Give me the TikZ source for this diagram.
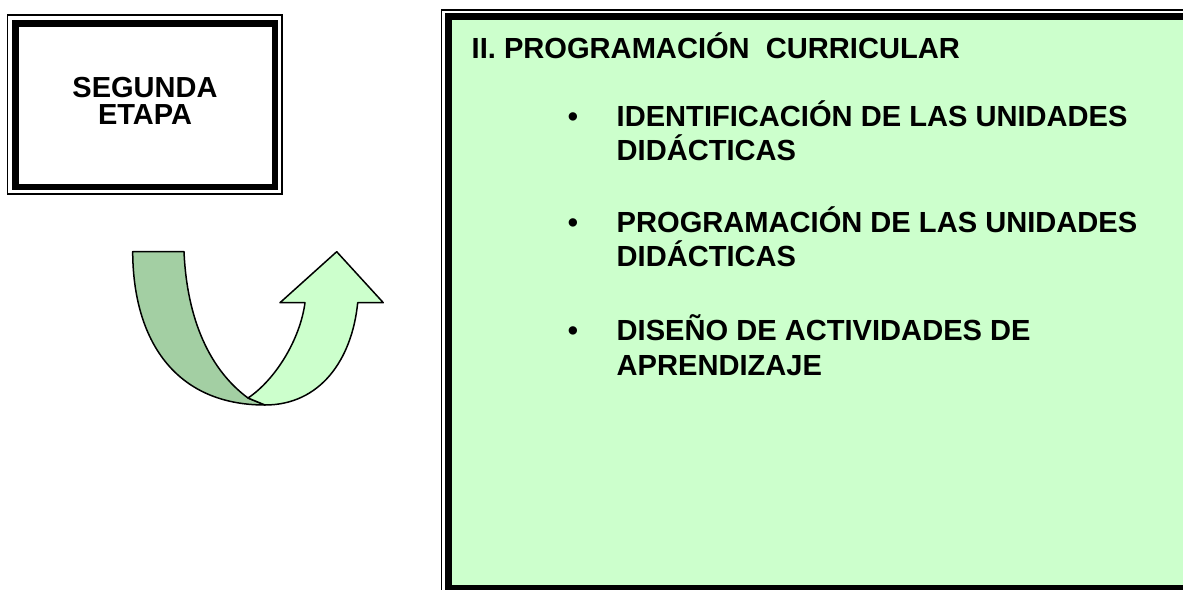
\documentclass[tikz,border=0pt]{standalone}
\usepackage{fontspec}
\setmainfont{Liberation Sans}
\definecolor{lightg}{HTML}{CCFFCC}
\definecolor{darkg}{HTML}{A3CFA3}
\begin{document}
\begin{tikzpicture}[x=1pt,y=-1pt,
  thinframe/.style={draw=black,line width=1.4pt},
  thickframe/.style={draw=black,line width=6.8pt},
  arrowpart/.style={draw=black,line width=1.5pt,line join=round},
  lefttxt/.style={anchor=base,inner sep=0pt,font=\bfseries\fontsize{29}{29}\selectfont},
  righttxt/.style={anchor=base west,inner sep=0pt,font=\bfseries\fontsize{29.1}{34}\selectfont},
  bullettxt/.style={anchor=base,inner sep=0pt,font=\bfseries\fontsize{29.1}{34}\selectfont}]
\useasboundingbox (0,0) rectangle (1183,589);
\begin{scope}
\clip (0,0) rectangle (1183,589);
% left box
\draw[thinframe] (7.3,15) rectangle (282,194);
\draw[thickframe,fill=white] (15.7,23.3) rectangle (275,187);
% right box
\draw[thinframe] (441.7,10) rectangle (1215,605);
\draw[thickframe,fill=lightg] (448.2,16.8) rectangle (1205,588);
\end{scope}
% texts left
\node[lefttxt] (seg) at (145,97.3) {SEGUNDA};
\node[lefttxt] (eta) at (145,124.3) {ETAPA};
% heading
\node[righttxt] (head) at (471.5,58.3) {II. PROGRAMACIÓN\ \ CURRICULAR};
% bullets
\node[bullettxt] (b1) at (573,126.7) {•};
\node[righttxt] (t1a) at (616.5,126.7) {IDENTIFICACIÓN DE LAS UNIDADES};
\node[righttxt] (t1b) at (616.5,160.7) {DIDÁCTICAS};
\node[bullettxt] (b2) at (573,232.7) {•};
\node[righttxt] (t2a) at (616.5,232.7) {PROGRAMACIÓN DE LAS UNIDADES};
\node[righttxt] (t2b) at (616.5,266.7) {DIDÁCTICAS};
\node[bullettxt] (b3) at (573,340.7) {•};
\node[righttxt] (t3a) at (616.5,340.7) {DISEÑO DE ACTIVIDADES DE};
\node[righttxt] (t3b) at (616.5,375.5) {APRENDIZAJE};
% U-turn arrow
\coordinate (ol) at (132.7,251.7);
\coordinate (il) at (184,251.7);
\coordinate (seam) at (248,398);
\coordinate (bot) at (265,405);
\coordinate (or) at (357.7,302.7);
\coordinate (hr) at (383.3,302.7);
\coordinate (tip) at (336.7,251.7);
\coordinate (hl) at (280,302.7);
\coordinate (ir) at (305,302.7);
\draw[arrowpart,fill=darkg] (ol) .. controls (133,340) and (175,405) .. (bot)
  -- (seam) .. controls (210,370) and (187,320) .. (il) -- cycle;
\draw[arrowpart,fill=lightg] (seam) -- (bot) .. controls (320,405) and (352,360) .. (or)
  -- (hr) -- (tip) -- (hl) -- (ir) .. controls (300,340) and (275,380) .. (seam) -- cycle;
\end{tikzpicture}
\end{document}
